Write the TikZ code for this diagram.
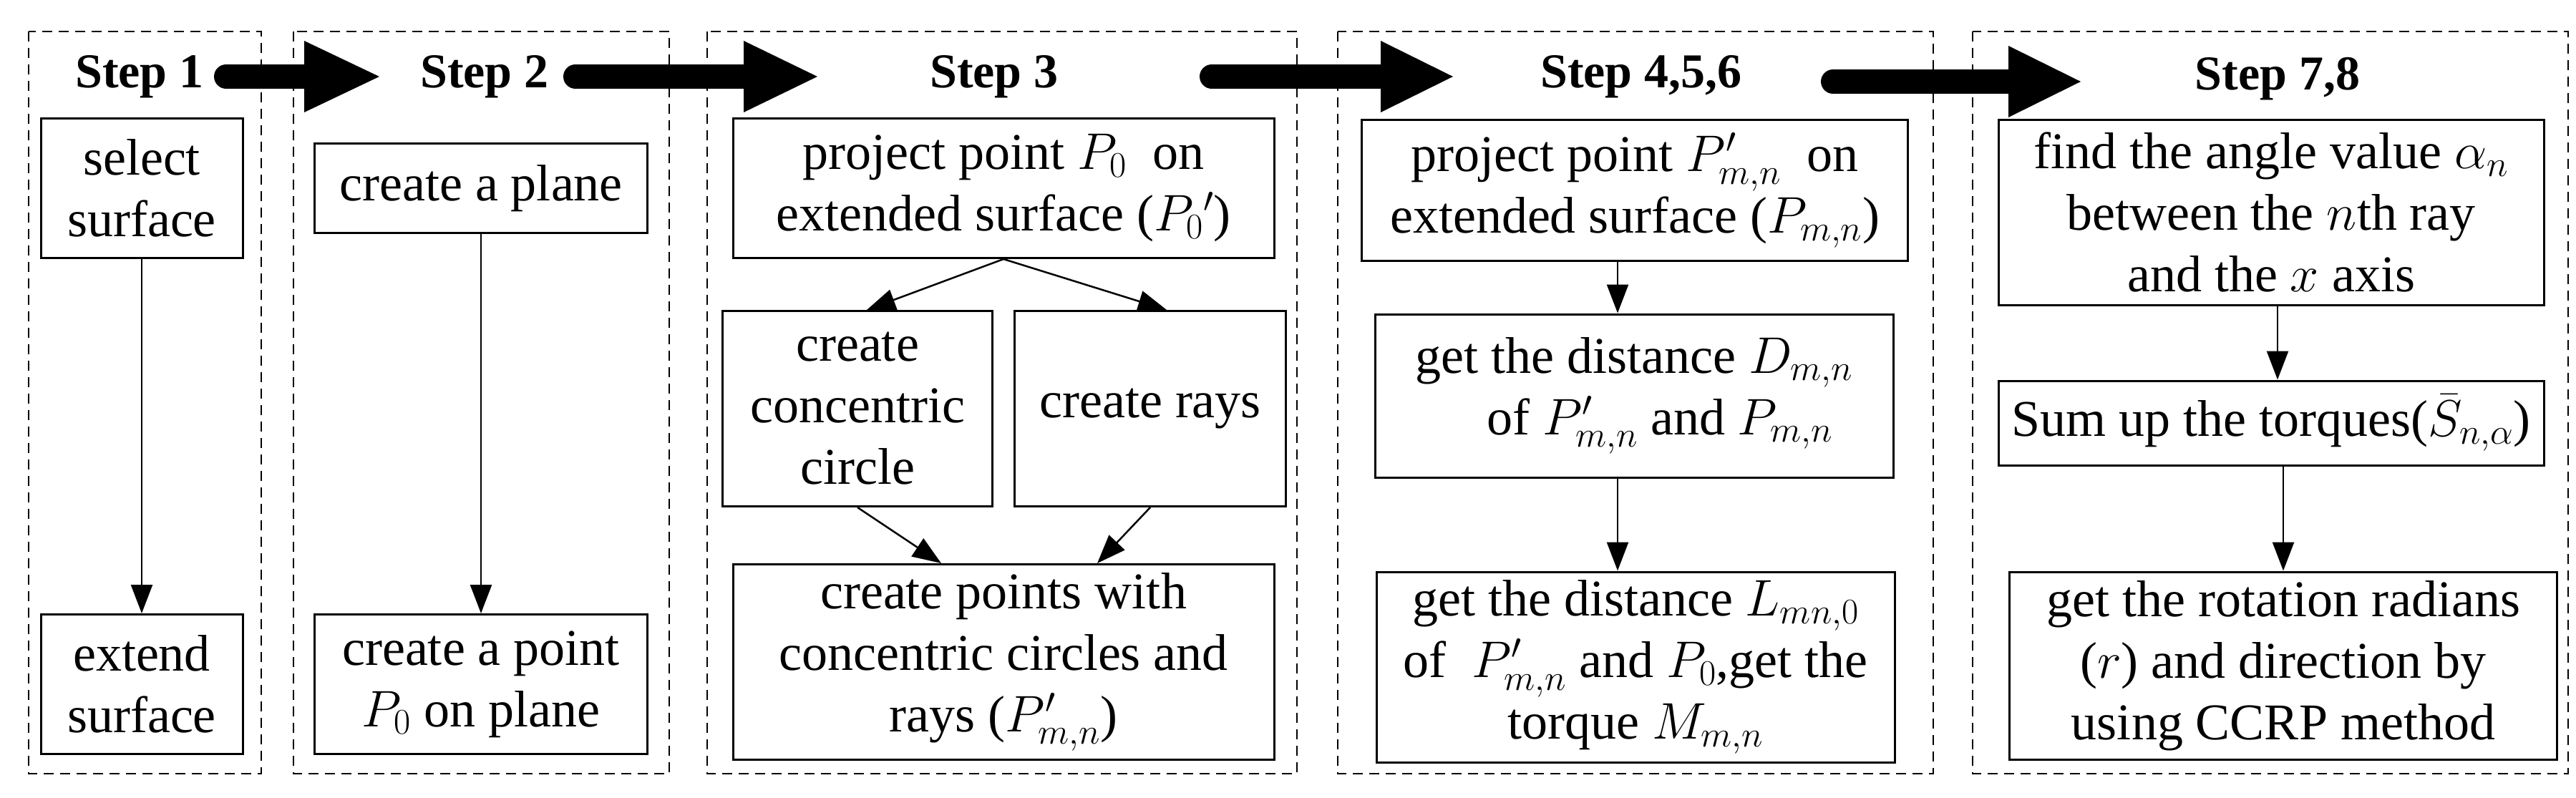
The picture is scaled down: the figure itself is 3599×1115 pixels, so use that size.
\RequirePackage{fix-cm}
\documentclass[tikz,border=0pt]{standalone}
\usepackage{fontspec}
\setmainfont{Liberation Serif}
\newfontfamily\tms{Liberation Serif}
\usetikzlibrary{arrows.meta}
\begin{document}
\begin{tikzpicture}[x=1pt,y=-1pt,
  panel/.style={draw,dashed,line width=2.5pt,dash pattern=on 14pt off 9pt},
  box/.style={draw,line width=3pt,align=center,inner sep=0pt,font=\tms\fontsize{72}{86}\selectfont},
  ttl/.style={font=\tms\fontsize{68}{80}\selectfont\bfseries},
  arr/.style={line width=2.5pt,-{Triangle[length=40pt,width=30pt]}}]
\useasboundingbox (0,0) rectangle (3599,1115);
% panels
\draw[panel] (40,44) rectangle (365,1081);
\draw[panel] (410,44) rectangle (935,1081);
\draw[panel] (988,44) rectangle (1812,1081);
\draw[panel] (1869,44) rectangle (2701,1081);
\draw[panel] (2756,44) rectangle (3588,1081);
% titles
\node[ttl] (t1) at (195,107) {Step 1};
\node[ttl] (t2) at (677,107) {Step 2};
\node[ttl] (t3) at (1389,107) {Step 3};
\node[ttl] (t4) at (2293,107) {Step 4,5,6};
\node[ttl] (t5) at (3182,110) {Step 7,8};
% big arrows
\foreach \a/\h/\b/\yc in {316/425/530/107, 804/1039/1142/107, 1693/1929/2030/107, 2561/2806/2907/114}{
  \draw[line width=34pt,line cap=round] (\a,\yc) -- (\h+2,\yc);
  \fill (\h,\yc-50) -- (\b,\yc) -- (\h,\yc+50) -- cycle;
}
% panel 1
\node[box,minimum width=282pt,minimum height=195pt] (a1) at (198,263) {select\\surface};
\node[box,minimum width=282pt,minimum height=195pt] (a2) at (198,956) {extend\\surface};
\draw[arr] (a1) -- (a2);
% panel 2
\node[box,minimum width=465pt,minimum height=125pt] (b1) at (672,263) {create a plane};
\node[box,minimum width=465pt,minimum height=195pt] (b2) at (672,956) {create a point\\$P_0$ on plane};
\draw[arr] (b1) -- (b2);
% panel 3
\node[box,minimum width=756pt,minimum height=195pt] (c1) at (1402,263) {project point $P_0$\ \ on\\extended surface ($P_0{}'$)};
\node[box,minimum width=377pt,minimum height=273pt] (c2) at (1198,571) {create\\concentric\\circle};
\node[box,minimum width=379pt,minimum height=273pt] (c3) at (1607,571) {create rays};
\node[box,minimum width=756pt,minimum height=273pt] (c4) at (1402,925) {create points with\\concentric circles and\\rays ($P'_{m,n}$)};
\draw[arr] (c1.south) -- ([xshift=13pt]c2.north);
\draw[arr] (c1.south) -- ([xshift=23pt]c3.north);
\draw[arr] (c2.south) -- ([xshift=-87pt]c4.north);
\draw[arr] (c3.south) -- ([xshift=131pt]c4.north);
% panel 4
\node[box,minimum width=763pt,minimum height=197pt] (d1) at (2284,266) {project point $P'_{m,n}$\ \ on\\extended surface ($P_{m,n}$)};
\node[box,minimum width=724pt,minimum height=228pt] (d2) at (2283,553) {get the distance $D_{m,n}$\\\quad of $P'_{m,n}$ and $P_{m,n}$};
\node[box,minimum width=724pt,minimum height=266pt] (d3) at (2285,932) {get the distance $L_{mn,0}$\\of\ \ $P'_{m,n}$ and $P_0$,get the\\torque $M_{m,n}$};
\draw[arr] (d1.south -| 2260,0) -- (d2.north -| 2260,0);
\draw[arr] (d2.south -| 2260,0) -- (d3.north -| 2260,0);
% panel 5
\node[box,minimum width=762pt,minimum height=259pt] (e1) at (3173,297) {find the angle value $\alpha_n$\\between the $n$th ray\\and the $x$ axis};
\node[box,minimum width=762pt,minimum height=118pt] (e2) at (3173,591) {Sum up the torques($\bar{S}_{n,\alpha}$)};
\node[box,minimum width=765pt,minimum height=262pt] (e3) at (3190,930) {get the rotation radians\\($r$) and direction by\\using CCRP method};
\draw[arr] (e1.south -| 3182,0) -- (e2.north -| 3182,0);
\draw[arr] (e2.south -| 3190,0) -- (e3.north -| 3190,0);
\end{tikzpicture}
\end{document}
